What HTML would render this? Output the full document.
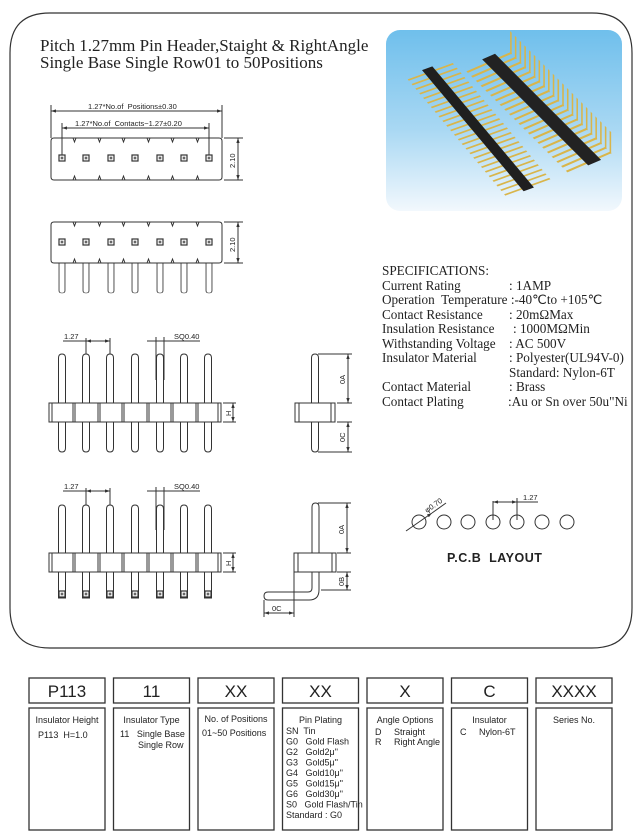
<!DOCTYPE html>
<html><head><meta charset="utf-8"><style>
html,body{margin:0;padding:0;background:#fff;}
svg{display:block;}
text{white-space:pre;}
.t{font-family:"Liberation Serif",serif;fill:#222;}
.s{font-family:"Liberation Sans",sans-serif;fill:#222;}
.d{font-family:"Liberation Sans",sans-serif;font-size:7.5px;fill:#222;}
.l{stroke:#333;stroke-width:1;fill:none;}
.f{stroke:#333;stroke-width:1;fill:#fff;}
</style></head><body>
<svg width="640" height="839" viewBox="0 0 640 839" xmlns="http://www.w3.org/2000/svg" xml:space="preserve">
<defs>
<linearGradient id="bg" x1="0" y1="0" x2="0" y2="1">
<stop offset="0" stop-color="#6fbfec"/><stop offset="0.55" stop-color="#a9d8f3"/><stop offset="1" stop-color="#f2f8fd"/></linearGradient>
<marker id="a" viewBox="0 0 6 6" refX="6" refY="3" markerWidth="5" markerHeight="5" orient="auto-start-reverse"><path d="M0,1 L6,3 L0,5z" fill="#333"/></marker>
<g id="sq"><rect x="-3" y="-3" width="6" height="6" fill="#fff" stroke="#333" stroke-width="1.2"/><rect x="-1.3" y="-1.3" width="2.6" height="2.6" fill="#666"/></g>
<g id="pin"><path d="M-3.5,50 L-3.5,4 Q-3.5,0 0,0 Q3.5,0 3.5,4 L3.5,50" class="f"/></g>
</defs>

<!-- frame -->
<path d="M50,13 L592,13 Q632,13 632,53 L632,608 Q632,648 592,648 L50,648 Q10,648 10,608 L10,53 Q10,13 50,13Z" fill="none" stroke="#333" stroke-width="1.2"/>

<!-- title -->
<text class="t" x="40" y="51" font-size="17">Pitch 1.27mm Pin Header,Staight &amp; RightAngle</text>
<text class="t" x="40" y="68" font-size="17">Single Base Single Row01 to 50Positions</text>

<!-- photo -->
<rect x="386" y="30" width="236" height="181" rx="14" fill="url(#bg)"/>
<g transform="matrix(0.94,-0.34,0.643,0.766,428,70)">
<line x1="1" y1="2" x2="1" y2="154" stroke="#d9b54a" stroke-width="48" stroke-dasharray="1.8 4.2"/>
<rect x="-5" y="-2" width="11" height="158" fill="#1f1f1f"/>
</g>
<g transform="matrix(0.92,-0.4,0.707,0.707,490,58)">
<line x1="-14" y1="3" x2="-14" y2="146" stroke="#d9b54a" stroke-width="28" stroke-dasharray="2.2 4.5"/>
<line x1="10" y1="3" x2="10" y2="146" stroke="#d9b54a" stroke-width="20" stroke-dasharray="2.2 4.5"/>
<rect x="-7" y="-2" width="14" height="150" fill="#222"/>
</g>
<g transform="matrix(0,-1,0.707,0.707,508,50)">
<line x1="10" y1="3" x2="10" y2="146" stroke="#d9b54a" stroke-width="22" stroke-dasharray="2.2 4.5"/>
</g>

<!-- top view 1 -->
<line x1="51" y1="111" x2="222" y2="111" class="l" marker-start="url(#a)" marker-end="url(#a)"/>
<line x1="51" y1="105" x2="51" y2="138" class="l"/><line x1="222" y1="105" x2="222" y2="138" class="l"/>
<text class="d" x="88" y="109">1.27*No.of  Positions±0.30</text>
<line x1="62" y1="128" x2="209" y2="128" class="l" marker-start="url(#a)" marker-end="url(#a)"/>
<line x1="62" y1="123" x2="62" y2="155" class="l"/><line x1="209" y1="123" x2="209" y2="155" class="l"/>
<text class="d" x="75" y="126">1.27*No.of  Contacts−1.27±0.20</text>
<path d="M51,141 Q51,138 54,138 L219,138 Q222,138 222,141 L222,177 Q222,180 219,180 L54,180 Q51,180 51,177Z" class="l"/>
<path d="M73,138 l1.5,4 l1.5,-4 M98,138 l1.5,4 l1.5,-4 M122,138 l1.5,4 l1.5,-4 M147,138 l1.5,4 l1.5,-4 M171,138 l1.5,4 l1.5,-4 M196,138 l1.5,4 l1.5,-4 M73,180 l1.5,-4 l1.5,4 M98,180 l1.5,-4 l1.5,4 M122,180 l1.5,-4 l1.5,4 M147,180 l1.5,-4 l1.5,4 M171,180 l1.5,-4 l1.5,4 M196,180 l1.5,-4 l1.5,4" class="l"/>
<use href="#sq" x="62" y="158"/><use href="#sq" x="86" y="158"/><use href="#sq" x="111" y="158"/><use href="#sq" x="135" y="158"/><use href="#sq" x="160" y="158"/><use href="#sq" x="184" y="158"/><use href="#sq" x="209" y="158"/>
<line x1="224" y1="138" x2="243" y2="138" class="l"/><line x1="224" y1="180" x2="243" y2="180" class="l"/>
<line x1="238" y1="138" x2="238" y2="180" class="l" marker-start="url(#a)" marker-end="url(#a)"/>
<text class="d" transform="translate(235,168) rotate(-90)" font-size="9">2.10</text>

<!-- top view 2 -->
<g>
<use href="#pin" transform="translate(62,293) scale(0.85,-0.6)"/><use href="#pin" transform="translate(86,293) scale(0.85,-0.6)"/><use href="#pin" transform="translate(111,293) scale(0.85,-0.6)"/><use href="#pin" transform="translate(135,293) scale(0.85,-0.6)"/><use href="#pin" transform="translate(160,293) scale(0.85,-0.6)"/><use href="#pin" transform="translate(184,293) scale(0.85,-0.6)"/><use href="#pin" transform="translate(209,293) scale(0.85,-0.6)"/>
</g>
<path d="M51,225 Q51,222 54,222 L219,222 Q222,222 222,225 L222,260 Q222,263 219,263 L54,263 Q51,263 51,260Z" class="f"/>
<path d="M73,222 l1.5,4 l1.5,-4 M98,222 l1.5,4 l1.5,-4 M122,222 l1.5,4 l1.5,-4 M147,222 l1.5,4 l1.5,-4 M171,222 l1.5,4 l1.5,-4 M196,222 l1.5,4 l1.5,-4 M73,263 l1.5,-4 l1.5,4 M98,263 l1.5,-4 l1.5,4 M122,263 l1.5,-4 l1.5,4 M147,263 l1.5,-4 l1.5,4 M171,263 l1.5,-4 l1.5,4 M196,263 l1.5,-4 l1.5,4" class="l"/>
<use href="#sq" x="62" y="242"/><use href="#sq" x="86" y="242"/><use href="#sq" x="111" y="242"/><use href="#sq" x="135" y="242"/><use href="#sq" x="160" y="242"/><use href="#sq" x="184" y="242"/><use href="#sq" x="209" y="242"/>
<line x1="224" y1="222" x2="243" y2="222" class="l"/><line x1="224" y1="263" x2="243" y2="263" class="l"/>
<line x1="238" y1="222" x2="238" y2="263" class="l" marker-start="url(#a)" marker-end="url(#a)"/>
<text class="d" transform="translate(235,252) rotate(-90)" font-size="9">2.10</text>

<!-- front view 1 -->
<g>
<use href="#pin" transform="translate(62,354)"/><use href="#pin" transform="translate(86,354)"/><use href="#pin" transform="translate(110,354)"/><use href="#pin" transform="translate(135,354)"/><use href="#pin" transform="translate(160,354)"/><use href="#pin" transform="translate(184,354)"/><use href="#pin" transform="translate(208,354)"/>
<use href="#pin" transform="translate(62,452) scale(1,-1)"/><use href="#pin" transform="translate(86,452) scale(1,-1)"/><use href="#pin" transform="translate(110,452) scale(1,-1)"/><use href="#pin" transform="translate(135,452) scale(1,-1)"/><use href="#pin" transform="translate(160,452) scale(1,-1)"/><use href="#pin" transform="translate(184,452) scale(1,-1)"/><use href="#pin" transform="translate(208,452) scale(1,-1)"/>
</g>
<rect x="49" y="403" width="172" height="19" class="f"/>
<path d="M52,403v19 M73,403v19 M75,403v19 M98,403v19 M100,403v19 M122,403v19 M124,403v19 M147,403v19 M149,403v19 M171,403v19 M173,403v19 M196,403v19 M198,403v19 M218,403v19" stroke="#333" stroke-width="1"/>
<line x1="63" y1="341" x2="110" y2="341" class="l"/><line x1="86" y1="341" x2="110" y2="341" class="l" marker-start="url(#a)" marker-end="url(#a)"/>
<line x1="86" y1="338" x2="86" y2="354" class="l"/><line x1="110" y1="338" x2="110" y2="354" class="l"/>
<text class="d" x="64" y="339">1.27</text>
<line x1="147" y1="341" x2="200" y2="341" class="l"/>
<line x1="156" y1="337" x2="156" y2="380" class="l"/><line x1="164" y1="337" x2="164" y2="380" class="l"/>
<text class="d" x="174" y="339">SQ0.40</text>
<line x1="223" y1="403" x2="236" y2="403" class="l"/><line x1="223" y1="422" x2="236" y2="422" class="l"/>
<line x1="233" y1="403" x2="233" y2="422" class="l" marker-start="url(#a)" marker-end="url(#a)"/>
<text class="d" transform="translate(231,416) rotate(-90)">H</text>

<!-- side view 1 -->
<use href="#pin" transform="translate(315,354)"/><use href="#pin" transform="translate(315,452) scale(1,-1)"/>
<rect x="295" y="403" width="40" height="19" class="f"/>
<path d="M299,403v19 M331,403v19" stroke="#333"/>
<line x1="318" y1="354" x2="352" y2="354" class="l"/><line x1="337" y1="403" x2="352" y2="403" class="l"/><line x1="337" y1="422" x2="352" y2="422" class="l"/><line x1="318" y1="452" x2="352" y2="452" class="l"/>
<line x1="348" y1="354" x2="348" y2="403" class="l" marker-start="url(#a)" marker-end="url(#a)"/>
<line x1="348" y1="422" x2="348" y2="452" class="l" marker-start="url(#a)" marker-end="url(#a)"/>
<text class="d" transform="translate(345,384) rotate(-90)">0A</text>
<text class="d" transform="translate(345,442) rotate(-90)">0C</text>

<!-- front view 2 -->
<g>
<use href="#pin" transform="translate(62,505)"/><use href="#pin" transform="translate(86,505)"/><use href="#pin" transform="translate(110,505)"/><use href="#pin" transform="translate(135,505)"/><use href="#pin" transform="translate(160,505)"/><use href="#pin" transform="translate(184,505)"/><use href="#pin" transform="translate(208,505)"/>
</g>
<g class="f">
<rect x="58.5" y="572" width="7" height="26"/><rect x="82.5" y="572" width="7" height="26"/><rect x="106.5" y="572" width="7" height="26"/><rect x="131.5" y="572" width="7" height="26"/><rect x="156.5" y="572" width="7" height="26"/><rect x="180.5" y="572" width="7" height="26"/><rect x="204.5" y="572" width="7" height="26"/>
</g>
<use href="#sq" x="62" y="594"/><use href="#sq" x="86" y="594"/><use href="#sq" x="110" y="594"/><use href="#sq" x="135" y="594"/><use href="#sq" x="160" y="594"/><use href="#sq" x="184" y="594"/><use href="#sq" x="208" y="594"/>
<rect x="49" y="553" width="172" height="19" class="f"/>
<path d="M52,553v19 M73,553v19 M75,553v19 M98,553v19 M100,553v19 M122,553v19 M124,553v19 M147,553v19 M149,553v19 M171,553v19 M173,553v19 M196,553v19 M198,553v19 M218,553v19" stroke="#333" stroke-width="1"/>
<line x1="63" y1="491" x2="110" y2="491" class="l"/><line x1="86" y1="491" x2="110" y2="491" class="l" marker-start="url(#a)" marker-end="url(#a)"/>
<line x1="86" y1="488" x2="86" y2="505" class="l"/><line x1="110" y1="488" x2="110" y2="505" class="l"/>
<text class="d" x="64" y="489">1.27</text>
<line x1="147" y1="491" x2="200" y2="491" class="l"/>
<line x1="156" y1="487" x2="156" y2="530" class="l"/><line x1="164" y1="487" x2="164" y2="530" class="l"/>
<text class="d" x="174" y="489">SQ0.40</text>
<line x1="223" y1="553" x2="236" y2="553" class="l"/><line x1="223" y1="572" x2="236" y2="572" class="l"/>
<line x1="233" y1="553" x2="233" y2="572" class="l" marker-start="url(#a)" marker-end="url(#a)"/>
<text class="d" transform="translate(231,566) rotate(-90)">H</text>

<!-- side view 2 -->
<use href="#pin" transform="translate(315.5,503)"/>
<path d="M312,572 L312,588 Q312,592 308,592 L268,592 Q264,592 264,596 Q264,600 268,600 L309,600 Q319,600 319,590 L319,572" class="f"/>
<rect x="294" y="553" width="42" height="19" class="f"/>
<path d="M298,553v19 M332,553v19" stroke="#333"/>
<line x1="318" y1="503" x2="351" y2="503" class="l"/><line x1="337" y1="553" x2="351" y2="553" class="l"/><line x1="337" y1="572" x2="351" y2="572" class="l"/><line x1="321" y1="590" x2="351" y2="590" class="l"/>
<line x1="347" y1="503" x2="347" y2="553" class="l" marker-start="url(#a)" marker-end="url(#a)"/>
<line x1="347" y1="572" x2="347" y2="590" class="l" marker-start="url(#a)" marker-end="url(#a)"/>
<text class="d" transform="translate(344,534) rotate(-90)">0A</text>
<text class="d" transform="translate(344,586) rotate(-90)">0B</text>
<line x1="264" y1="600" x2="264" y2="617" class="l"/><line x1="294" y1="572" x2="294" y2="617" class="l"/>
<line x1="264" y1="613" x2="294" y2="613" class="l" marker-start="url(#a)" marker-end="url(#a)"/>
<text class="d" x="272" y="611">0C</text>

<!-- specs -->
<g class="t" font-size="13.2">
<text x="382" y="275">SPECIFICATIONS:</text>
<text x="382" y="290">Current Rating</text><text x="509" y="290">: 1AMP</text>
<text x="382" y="304">Operation  Temperature :-40℃to +105℃</text>
<text x="382" y="319">Contact Resistance</text><text x="509" y="319">: 20mΩMax</text>
<text x="382" y="333">Insulation Resistance</text><text x="513" y="333">: 1000MΩMin</text>
<text x="382" y="348">Withstanding Voltage</text><text x="509" y="348">: AC 500V</text>
<text x="382" y="362">Insulator Material</text><text x="509" y="362">: Polyester(UL94V-0)</text>
<text x="509" y="377">Standard: Nylon-6T</text>
<text x="382" y="391">Contact Material</text><text x="509" y="391">: Brass</text>
<text x="382" y="406">Contact Plating</text><text x="508" y="406">:Au or Sn over 50u"Ni</text>
</g>

<!-- pcb -->
<g class="l">
<circle cx="419" cy="522" r="7"/><circle cx="444" cy="522" r="7"/><circle cx="468" cy="522" r="7"/><circle cx="493" cy="522" r="7"/><circle cx="517" cy="522" r="7"/><circle cx="542" cy="522" r="7"/><circle cx="567" cy="522" r="7"/>
</g>
<line x1="406" y1="531" x2="432" y2="513" class="l" marker-end="url(#a)"/>
<line x1="432" y1="513" x2="446" y2="503" class="l"/>
<text class="d" transform="translate(427,513) rotate(-35)">φ0.70</text>
<line x1="493" y1="501" x2="493" y2="520" class="l"/><line x1="517" y1="498" x2="517" y2="520" class="l"/>
<line x1="493" y1="502" x2="517" y2="502" class="l" marker-start="url(#a)" marker-end="url(#a)"/>
<line x1="517" y1="502" x2="538" y2="502" class="l"/>
<text class="d" x="523" y="500">1.27</text>
<text class="s" x="447" y="562" font-size="12.5" font-weight="bold" letter-spacing="0.5">P.C.B  LAYOUT</text>

<!-- table -->
<g fill="#fff" stroke="#333" stroke-width="1.3">
<rect x="29" y="678" width="76" height="25"/><rect x="113.5" y="678" width="76" height="25"/><rect x="198" y="678" width="76" height="25"/><rect x="282.5" y="678" width="76" height="25"/><rect x="367" y="678" width="76" height="25"/><rect x="451.5" y="678" width="76" height="25"/><rect x="536" y="678" width="76" height="25"/>
<rect x="29" y="708" width="76" height="122"/><rect x="113.5" y="708" width="76" height="122"/><rect x="198" y="708" width="76" height="122"/><rect x="282.5" y="708" width="76" height="122"/><rect x="367" y="708" width="76" height="122"/><rect x="451.5" y="708" width="76" height="122"/><rect x="536" y="708" width="76" height="122"/>
</g>
<g class="s" font-size="17" text-anchor="middle">
<text x="67" y="697">P113</text><text x="151.5" y="697">11</text><text x="236" y="697">XX</text><text x="320.5" y="697">XX</text><text x="405" y="697">X</text><text x="489.5" y="697">C</text><text x="574" y="697">XXXX</text>
</g>
<g class="s" font-size="9" text-anchor="middle">
<text x="67" y="723">Insulator Height</text><text x="151.5" y="723">Insulator Type</text><text x="236" y="722">No. of Positions</text><text x="320.5" y="723">Pin Plating</text><text x="405" y="723">Angle Options</text><text x="489.5" y="723">Insulator</text><text x="574" y="723">Series No.</text>
</g>
<g class="s" font-size="9">
<text x="38" y="738">P113  H=1.0</text>
<text x="120" y="737">11   Single Base</text><text x="138" y="748">Single Row</text>
<text x="202" y="736">01~50 Positions</text>
<text x="286" y="734">SN  Tin</text>
<text x="286" y="744.5">G0   Gold Flash</text>
<text x="286" y="755">G2   Gold2μ"</text>
<text x="286" y="765.5">G3   Gold5μ"</text>
<text x="286" y="776">G4   Gold10μ"</text>
<text x="286" y="786.5">G5   Gold15μ"</text>
<text x="286" y="797">G6   Gold30μ"</text>
<text x="286" y="807.5">S0   Gold Flash/Tin</text>
<text x="286" y="818">Standard : G0</text>
<text x="375" y="735">D     Straight</text><text x="375" y="745">R     Right Angle</text>
<text x="460" y="735">C     Nylon-6T</text>
</g>
</svg>
</body></html>
